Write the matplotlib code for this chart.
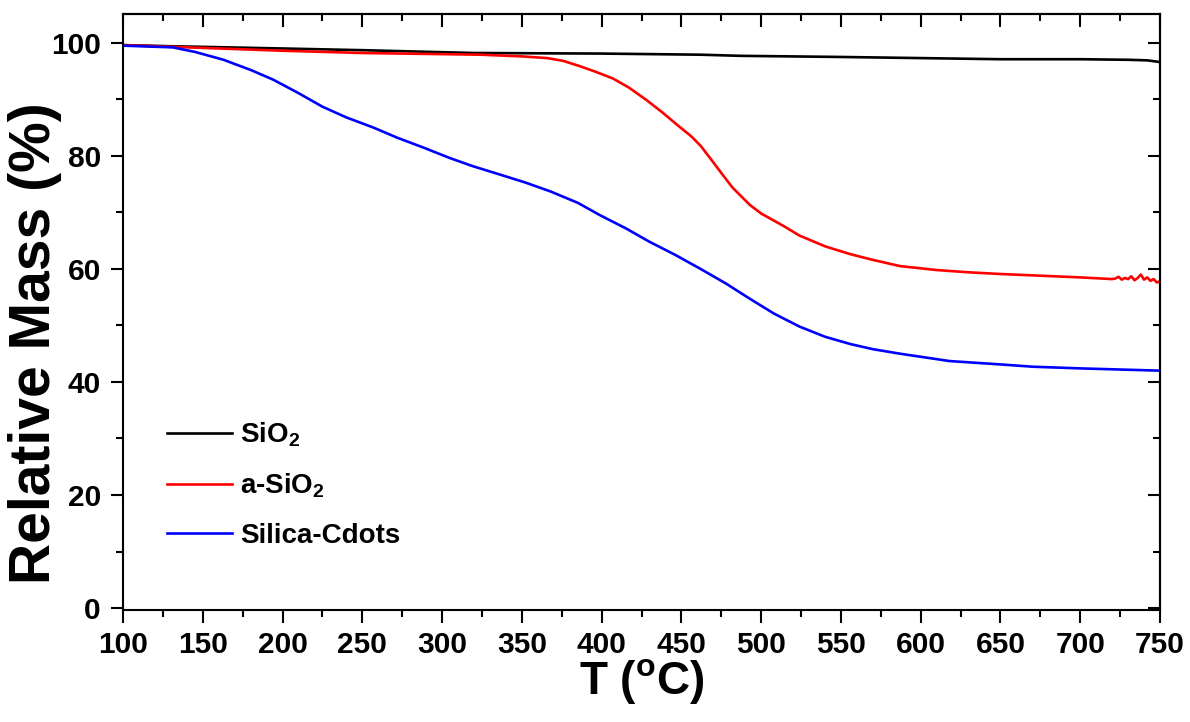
import numpy as np
import matplotlib
matplotlib.use('Agg')
from matplotlib import pyplot as plt
from matplotlib.ticker import MultipleLocator

# данные (T в °C, масса в %)
t_sio2 = [100, 130, 200, 250, 320, 400, 462, 487, 550, 600, 650, 700, 730, 742, 750]
m_sio2 = [99.6, 99.4, 99.0, 98.7, 98.2, 98.1, 97.9, 97.7, 97.5, 97.3, 97.1, 97.1, 97.0, 96.9, 96.6]

t_asio2 = [100, 130, 160, 200, 250, 300, 324, 350, 366, 376, 386, 396, 407, 417, 428,
           438, 449, 456, 462, 468, 476, 482, 488, 493, 500, 514, 524, 540, 556, 570,
           587, 610, 630, 650, 675, 700, 720, 722, 724, 726, 728, 730, 732, 734, 736,
           738, 740, 742, 744, 746, 748, 750]
m_asio2 = [99.6, 99.3, 99.0, 98.6, 98.2, 98.0, 97.9, 97.6, 97.3, 96.8, 95.9, 94.9, 93.7, 92.1, 89.9,
           87.7, 85.1, 83.5, 81.8, 79.6, 76.6, 74.4, 72.7, 71.3, 69.8, 67.6, 65.9, 64.0, 62.6, 61.6,
           60.5, 59.8, 59.4, 59.1, 58.8, 58.5, 58.2, 58.3, 58.6, 58.1, 58.4, 58.2, 58.7, 58.0, 58.4,
           59.0, 58.1, 58.5, 57.9, 58.2, 57.6, 57.8]

t_cdots = [100, 131, 145, 163, 180, 194, 210, 225, 240, 257, 272, 288, 305, 319, 335, 352,
           368, 385, 399, 415, 430, 446, 462, 478, 493, 508, 524, 540, 556, 570, 587, 618,
           650, 670, 700, 725, 750]
m_cdots = [99.5, 99.2, 98.4, 97.0, 95.2, 93.5, 91.1, 88.7, 86.8, 85.0, 83.2, 81.5, 79.6, 78.2, 76.8, 75.3,
           73.7, 71.7, 69.5, 67.2, 64.8, 62.5, 60.0, 57.4, 54.7, 52.1, 49.8, 48.0, 46.7, 45.8, 45.0, 43.7,
           43.1, 42.7, 42.4, 42.2, 42.0]

labels = [r'SiO$_2$', r'a-SiO$_2$', 'Silica-Cdots']
colors = ['black', '#ff0000', '#0000ff']

plt.rcParams['font.family'] = ['Liberation Sans', 'DejaVu Sans']
plt.rcParams['font.weight'] = 'bold'
plt.rcParams['mathtext.fontset'] = 'custom'
plt.rcParams['mathtext.rm'] = 'Liberation Sans:bold'
plt.rcParams['mathtext.it'] = 'Liberation Sans:bold'
plt.rcParams['mathtext.bf'] = 'Liberation Sans:bold'

fig = plt.figure(figsize=(11.9, 7.22), dpi=100)
ax = fig.add_axes([0.1034, 0.1551, 0.8714, 0.8255])

for t, m, lab, c in zip([t_sio2, t_asio2, t_cdots], [m_sio2, m_asio2, m_cdots], labels, colors):
    ax.plot(t, m, color=c, lw=1.9, label=lab)

ax.set_xlim(100, 750)
ax.set_ylim(-0.35, 105.1)
ax.xaxis.set_major_locator(MultipleLocator(50))
ax.xaxis.set_minor_locator(MultipleLocator(25))
ax.yaxis.set_major_locator(MultipleLocator(20))
ax.yaxis.set_minor_locator(MultipleLocator(10))

for s in ax.spines.values():
    s.set_linewidth(1.5)

ax.tick_params(which='major', direction='out', length=9, width=1.5, labelsize=21.5)
ax.tick_params(which='minor', direction='out', length=5, width=1.5)
ax.tick_params(axis='x', which='major', pad=6)
ax.tick_params(axis='y', which='major', pad=7)

# верх и право - засечки внутрь, без подписей
top = ax.secondary_xaxis('top')
top.xaxis.set_major_locator(MultipleLocator(50))
top.xaxis.set_minor_locator(MultipleLocator(25))
top.tick_params(which='major', direction='in', length=9, width=1.5, labeltop=False)
top.tick_params(which='minor', direction='in', length=5, width=1.5)
right = ax.secondary_yaxis('right')
right.yaxis.set_major_locator(MultipleLocator(20))
right.yaxis.set_minor_locator(MultipleLocator(10))
right.tick_params(which='major', direction='in', length=9, width=1.5, labelright=False)
right.tick_params(which='minor', direction='in', length=5, width=1.5)
for sec in (top, right):
    for s in sec.spines.values():
        s.set_linewidth(1.5)

ax.set_xlabel(r'T ($^{\rm o}$C)', fontsize=33, fontweight='bold')
ax.set_ylabel('Relative Mass (%)', fontsize=41, fontweight='bold')
ax.xaxis.set_label_coords(0.5, -0.078)
ax.yaxis.set_label_coords(-0.059, 0.448)

ax.legend(loc='center left', bbox_to_anchor=(0.042, 0.21), frameon=False,
          fontsize=20, handlelength=2.35, handletextpad=0.3, labelspacing=0.82,
          borderpad=0, borderaxespad=0)

plt.savefig('out.png', dpi=100)
